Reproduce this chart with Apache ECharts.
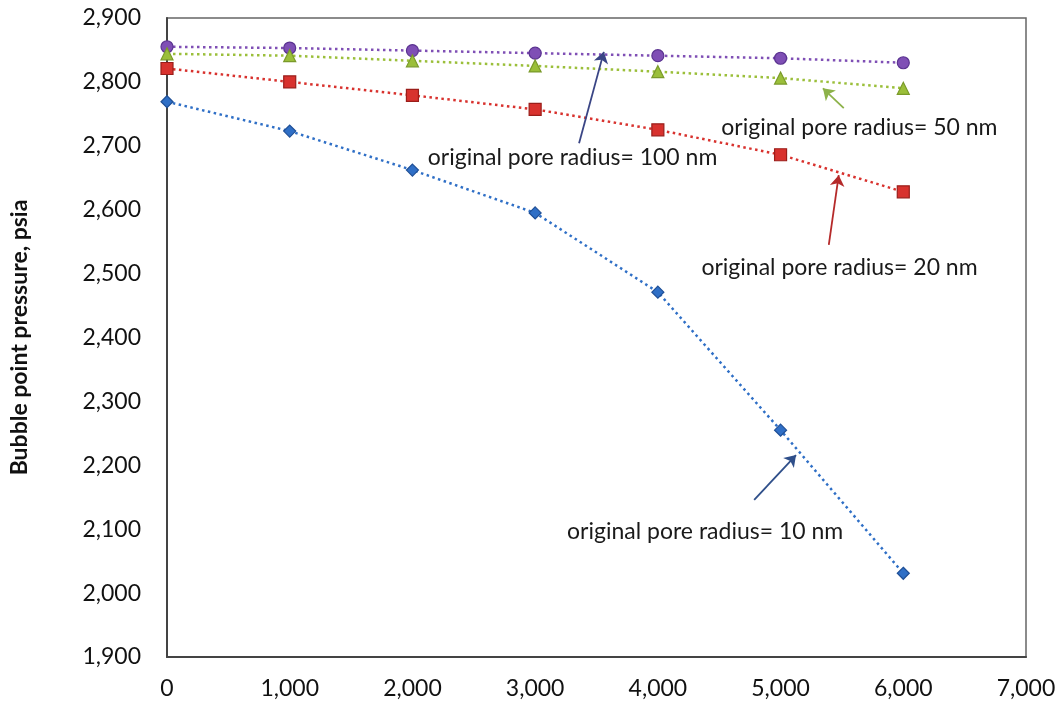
<!DOCTYPE html>
<html>
<head>
<meta charset="utf-8">
<script src="https://cdn.jsdelivr.net/npm/echarts@6/dist/echarts.min.js"></script>
<style>html,body{margin:0;padding:0;background:#fff}#c{width:1063px;height:710px}</style>
</head>
<body>
<div id="c"></div>
<script>
var xValues = [0, 1000, 2000, 3000, 4000, 5000, 6000];
var r100 = [2855, 2853, 2849, 2845, 2841, 2837, 2830];
var r50  = [2844, 2841, 2833, 2825, 2816, 2806, 2790];
var r20  = [2821, 2800, 2779, 2757, 2725, 2686, 2628];
var r10  = [2769, 2723, 2662, 2595, 2471, 2255, 2031];
var yTicks = [1900, 2900, 100];
var xTicks = [0, 7000, 1000];
var labels = ['original pore radius= 100 nm','original pore radius= 50 nm','original pore radius= 20 nm','original pore radius= 10 nm'];
// annotation anchors in data units: [textX, textY, arrowTailX, arrowTailY, arrowHeadX, arrowHeadY]
var ann100 = [2125, 2681, 3358, 2704, 3560, 2847];
var ann50  = [4517, 2728, 5515, 2759, 5345, 2790];
var ann20  = [4355, 2509, 5393, 2545, 5474, 2654];
var ann10  = [3260, 2096, 4785, 2146, 5126, 2216];

var FONT = 'Lato';
function pairs(ys){ return xValues.map(function(x,i){return [x, ys[i]];}); }
function fmt(v){ return v.toLocaleString('en-US'); }

function series(name, ys, color, border, symbol, size, ann, arrowColor){
  return {
    name: name, type: 'line', data: pairs(ys),
    symbol: symbol, symbolSize: size,
    itemStyle: {color: color, borderColor: border, borderWidth: 1.2},
    lineStyle: {color: color, width: 2.5, type: [2.5, 3.5]},
    z: 3,
    markLine: {
      silent: true, symbol: ['none', 'arrow'], symbolSize: 11,
      lineStyle: {color: arrowColor, width: 1.8, type: 'solid'},
      label: {show: false},
      data: [[{coord: [ann[2], ann[3]]}, {coord: [ann[4], ann[5]]}]]
    },
    markPoint: {
      silent: true, symbol: 'rect', symbolSize: 0,
      label: {show: true, position: 'right', distance: 0, color: '#1a1a1a', fontFamily: FONT, fontSize: 23, formatter: function(){return name;}},
      data: [{coord: [ann[0], ann[1]]}]
    }
  };
}

var chart = echarts.init(document.getElementById('c'));
chart.setOption({
  animation: false,
  backgroundColor: '#fff',
  grid: {left: 163, top: 18, right: 37, bottom: 53, show: true, borderColor: '#666', borderWidth: 1.5, backgroundColor: 'transparent'},
  xAxis: {
    type: 'value', min: xTicks[0], max: xTicks[1], interval: xTicks[2],
    axisLine: {show: true, lineStyle: {color: '#444', width: 2}},
    axisTick: {show: false}, splitLine: {show: false},
    axisLabel: {color: '#111', fontFamily: FONT, fontSize: 23, margin: 20, formatter: fmt}
  },
  yAxis: {
    type: 'value', min: yTicks[0], max: yTicks[1], interval: yTicks[2],
    name: 'Bubble point pressure, psia', nameLocation: 'middle', nameGap: 136,
    nameTextStyle: {color: '#111', fontFamily: FONT, fontSize: 23, fontWeight: 'bold'},
    axisLine: {show: true, lineStyle: {color: '#444', width: 2}},
    axisTick: {show: false}, splitLine: {show: false},
    axisLabel: {color: '#111', fontFamily: FONT, fontSize: 23, margin: 26, formatter: fmt}
  },
  series: [
    series(labels[0], r100, '#7f4fb5', '#5a3390', 'circle', 12, ann100, '#3a4585'),
    series(labels[1], r50, '#9bbf3a', '#7a9a2a', 'triangle', 12, ann50, '#8db24a'),
    series(labels[2], r20, '#d8322e', '#9a1e1a', 'rect', 12, ann20, '#b52a2a'),
    series(labels[3], r10, '#2f6fc6', '#1f4f96', 'diamond', 12, ann10, '#2f4f8a')
  ]
});
</script>
</body>
</html>
